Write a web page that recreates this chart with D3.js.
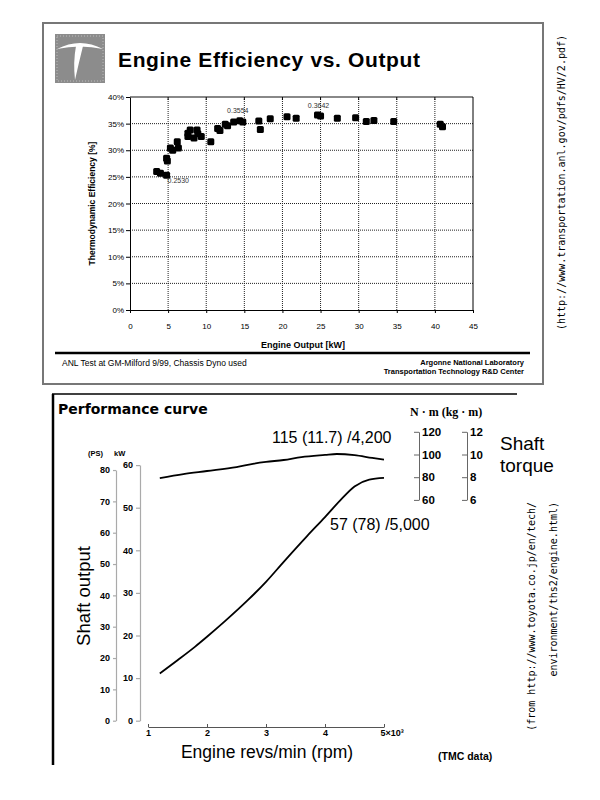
<!DOCTYPE html>
<html>
<head>
<meta charset="utf-8">
<script src="https://cdn.jsdelivr.net/npm/d3@7"></script>
<style>
  body { margin: 0; background: #fff; }
</style>
</head>
<body>
<div id="chart"></div>
<script>
// ANL test points: engine output [kW] vs thermodynamic efficiency [%]
const outputKw   = [3.5, 4.0, 4.8, 4.8, 4.9, 5.3, 5.6, 6.2, 6.35, 7.6, 7.9, 7.6, 8.4, 8.8, 8.9, 9.35, 10.6, 11.5, 11.8, 12.5, 12.8, 13.6, 14.4, 14.8, 16.9, 17.1, 18.4, 20.6, 21.8, 24.6, 25.0, 27.2, 29.6, 31.0, 32.0, 34.6, 40.7, 41.0];
const efficiency = [26.0, 25.7, 25.3, 28.5, 28.0, 30.4, 30.0, 31.6, 30.4, 33.2, 33.8, 32.6, 32.3, 33.8, 33.1, 32.6, 31.6, 34.1, 33.7, 34.9, 34.6, 35.3, 35.54, 35.3, 35.5, 33.9, 35.9, 36.3, 36.0, 36.6, 36.42, 36.0, 36.1, 35.4, 35.6, 35.4, 34.9, 34.4];
const calloutKw  = [4.8, 14.4, 25.0];
const calloutEff = [25.30, 35.54, 36.42];
const effXTicks  = [0, 5, 10, 15, 20, 25, 30, 35, 40, 45];
const effYTicks  = [0, 5, 10, 15, 20, 25, 30, 35, 40];

// Toyota performance curve (rpm in 10^3)
const powerRpm  = [1.2, 1.5, 1.8, 2.0, 2.3, 2.7, 3.0, 3.3, 3.7, 4.0, 4.25, 4.5, 4.75, 5.0];
const powerKw   = [11.1, 14.2, 17.4, 19.7, 23.3, 28.4, 32.6, 37.3, 43.4, 47.8, 51.6, 55.0, 56.6, 57.0];
const torqueRpm = [1.2, 1.6, 2.0, 2.5, 2.8, 3.0, 3.3, 3.6, 4.0, 4.2, 4.5, 4.8, 5.0];
const torqueNm  = [93.8, 97.3, 100, 103.5, 106.5, 108, 109.7, 112.3, 114.2, 115, 114, 111.5, 110];
const rpmTicks  = [1, 2, 3, 4, 5];
const kwTicks   = [0, 10, 20, 30, 40, 50, 60];
const psTicks   = [0, 10, 20, 30, 40, 50, 60, 70, 80];
const nmTicks   = [60, 80, 100, 120];
const kgmTicks  = [6, 8, 10, 12];

const sans = "Liberation Sans, Arial, sans-serif";
const mono = "DejaVu Sans Mono, monospace";

const svg = d3.select("#chart")
              .append("svg")
              .attr("width", 600)
              .attr("height", 800)
              .attr("font-family", sans);

svg.append("rect").attr("width", 600).attr("height", 800).attr("fill", "#fff");

/* ---------- top panel ---------- */

svg.append("rect")
   .attr("x", 43).attr("y", 23)
   .attr("width", 500).attr("height", 361)
   .attr("fill", "none")
   .attr("stroke", "#777")
   .attr("stroke-width", 2);

// logo
const logo = svg.append("g");
logo.append("rect").attr("x", 55).attr("y", 34).attr("width", 50).attr("height", 49).attr("fill", "#8c8c8c");
logo.append("rect").attr("x", 57).attr("y", 36).attr("width", 46).attr("height", 45)
    .attr("fill", "none").attr("stroke", "#bbb").attr("stroke-dasharray", "1,2");
logo.append("path").attr("d", "M57,49 Q80,37 103,49 Q80,44 57,49 Z").attr("fill", "#fff");
logo.append("path").attr("d", "M76,46 L83,46 Q79,62 75,80 Q73,62 76,46 Z").attr("fill", "#fff");

svg.append("text")
   .attr("x", 118).attr("y", 67)
   .attr("font-size", 21).attr("font-weight", "bold")
   .attr("textLength", 302).attr("lengthAdjust", "spacing")
   .text("Engine Efficiency vs. Output");

const x1 = d3.scaleLinear().domain([0, 45]).range([130, 473]);
const y1 = d3.scaleLinear().domain([0, 40]).range([310, 97]);

// dotted grid
svg.append("g")
   .selectAll("line")
   .data(effXTicks.slice(1, -1))
   .enter().append("line")
   .attr("x1", d => x1(d)).attr("x2", d => x1(d))
   .attr("y1", y1(40)).attr("y2", y1(0))
   .attr("stroke", "#222").attr("stroke-dasharray", "1,1");

svg.append("g")
   .selectAll("line")
   .data(effYTicks.slice(1, -1))
   .enter().append("line")
   .attr("x1", x1(0)).attr("x2", x1(45))
   .attr("y1", d => y1(d)).attr("y2", d => y1(d))
   .attr("stroke", "#222").attr("stroke-dasharray", "1,1");

// top + right borders of plot box
svg.append("line")
   .attr("x1", x1(0)).attr("x2", x1(45))
   .attr("y1", y1(40)).attr("y2", y1(40))
   .attr("stroke", "#888").attr("stroke-width", 2);
svg.append("line")
   .attr("x1", x1(45)).attr("x2", x1(45))
   .attr("y1", y1(40)).attr("y2", y1(0))
   .attr("stroke", "#000");
svg.append("g")
   .selectAll("line")
   .data(effXTicks.slice(1, -1))
   .enter().append("line")
   .attr("x1", d => x1(d)).attr("x2", d => x1(d))
   .attr("y1", y1(40)).attr("y2", y1(40) + 3)
   .attr("stroke", "#000");

const yAxis1 = svg.append("g")
   .attr("transform", "translate(" + x1(0) + ",0)")
   .call(d3.axisLeft(y1).tickValues(effYTicks).tickSize(4).tickSizeOuter(0).tickPadding(2).tickFormat(d => d + "%"));

const xAxis1 = svg.append("g")
   .attr("transform", "translate(0," + y1(0) + ")")
   .call(d3.axisBottom(x1).tickValues(effXTicks).tickSize(3).tickSizeOuter(0).tickPadding(10));

[yAxis1, xAxis1].forEach(g => {
  g.attr("font-family", sans).attr("font-size", 8);
  g.selectAll("path, line").attr("stroke", "#000");
});

svg.append("g")
   .selectAll("rect")
   .data(outputKw.map((d, i) => ({kw: d, eff: efficiency[i]})))
   .enter().append("rect")
   .attr("x", d => x1(d.kw) - 3.5)
   .attr("y", d => y1(d.eff) - 3.5)
   .attr("width", 7).attr("height", 7)
   .attr("rx", 1.5)
   .attr("fill", "#000");

svg.append("g")
   .selectAll("text")
   .data(calloutKw.map((d, i) => ({kw: d, eff: calloutEff[i]})))
   .enter().append("text")
   .attr("x", d => d.eff < 30 ? x1(d.kw) + 1 : x1(d.kw) - 2)
   .attr("y", d => d.eff < 30 ? y1(d.eff) + 8 : y1(d.eff) - 8)
   .attr("text-anchor", d => d.eff < 30 ? "start" : "middle")
   .attr("font-size", 7)
   .attr("fill", "#333")
   .text(d => (d.eff / 100).toFixed(4));

svg.append("text")
   .attr("transform", "translate(95," + y1(20) + ") rotate(-90)")
   .attr("text-anchor", "middle")
   .attr("font-size", 8.5).attr("font-weight", "bold")
   .text("Thermodynamic Efficiency [%]");

svg.append("text")
   .attr("x", 303).attr("y", 348)
   .attr("text-anchor", "middle")
   .attr("font-size", 9).attr("font-weight", "bold")
   .text("Engine Output [kW]");

svg.append("line")
   .attr("x1", 55).attr("x2", 530)
   .attr("y1", 353).attr("y2", 353)
   .attr("stroke", "#000").attr("stroke-width", 2.5);

svg.append("text")
   .attr("x", 62).attr("y", 366)
   .attr("font-size", 8.5)
   .text("ANL Test at GM-Milford 9/99, Chassis Dyno used");

svg.append("text")
   .attr("x", 524).attr("y", 365)
   .attr("text-anchor", "end")
   .attr("font-size", 7.5).attr("font-weight", "bold")
   .text("Argonne National Laboratory");

svg.append("text")
   .attr("x", 524).attr("y", 374)
   .attr("text-anchor", "end")
   .attr("font-size", 7.5).attr("font-weight", "bold")
   .text("Transportation Technology R&D Center");

svg.append("text")
   .attr("transform", "translate(565,35) rotate(-90)")
   .attr("text-anchor", "end")
   .attr("font-family", mono)
   .attr("font-size", 10)
   .text("(http://www.transportation.anl.gov/pdfs/HV/2.pdf)");

/* ---------- bottom panel ---------- */

svg.append("line")
   .attr("x1", 53).attr("x2", 53)
   .attr("y1", 394).attr("y2", 765)
   .attr("stroke", "#000").attr("stroke-width", 2.5);
svg.append("line")
   .attr("x1", 52).attr("x2", 517)
   .attr("y1", 394).attr("y2", 394)
   .attr("stroke", "#000").attr("stroke-width", 1.5);

svg.append("text")
   .attr("x", 58).attr("y", 414)
   .attr("font-family", "DejaVu Sans, sans-serif")
   .attr("font-size", 14).attr("font-weight", "bold")
   .text("Performance curve");

const x2 = d3.scaleLinear().domain([1, 5]).range([148, 384]);
const kwY = d3.scaleLinear().domain([0, 60]).range([720.7, 465.1]);
const psY = d3.scaleLinear().domain([0, 80]).range([kwY(0), kwY(80 * 0.7355)]);
const torqueY = d3.scaleLinear().domain([60, 120]).range([516.4, 448.3]);
const kgmY = d3.scaleLinear().domain([6, 12]).range(torqueY.range());

const rpmAxis = svg.append("g")
   .attr("transform", "translate(0,727)")
   .call(d3.axisBottom(x2).tickValues(rpmTicks).tickSizeInner(-3).tickSizeOuter(0).tickPadding(3)
           .tickFormat(d => d === 5 ? "5×10³" : d));
rpmAxis.selectAll(".tick text")
   .filter(d => d === 5)
   .attr("text-anchor", "start")
   .attr("dx", -4);

const psAxis = svg.append("g")
   .attr("transform", "translate(116,0)")
   .call(d3.axisLeft(psY).tickValues(psTicks).tickSize(3).tickSizeOuter(0).tickPadding(3));

const kwAxis = svg.append("g")
   .attr("transform", "translate(140,0)")
   .call(d3.axisLeft(kwY).tickValues(kwTicks).tickSize(4).tickSizeOuter(0).tickPadding(3));

[rpmAxis, psAxis, kwAxis].forEach(g => {
  g.attr("font-family", sans)
   .attr("font-size", 9)
   .attr("font-weight", "bold");
});
rpmAxis.selectAll("path, line").attr("stroke", "#555");
[psAxis, kwAxis].forEach(g => g.selectAll("path, line").attr("stroke", "#aaa").attr("stroke-width", 1.2));

// torque scale brackets (drawn slightly above the curve's own scale)
const nmAxis = svg.append("g")
   .attr("transform", "translate(419,-16.5)")
   .call(d3.axisRight(torqueY).tickValues(nmTicks).tickSizeInner(-5).tickSizeOuter(0).tickPadding(3));
const kgmAxis = svg.append("g")
   .attr("transform", "translate(467,-16.5)")
   .call(d3.axisRight(kgmY).tickValues(kgmTicks).tickSizeInner(-5).tickSizeOuter(0).tickPadding(3)
           .tickFormat(d3.format("d")));
[nmAxis, kgmAxis].forEach(g => {
  g.attr("font-family", sans)
   .attr("font-size", 11.5)
   .attr("font-weight", "bold");
  g.selectAll("path, line").attr("stroke", "#666");
});

const line = d3.line().curve(d3.curveMonotoneX);

svg.append("path")
   .attr("d", line(powerRpm.map((d, i) => [x2(d), kwY(powerKw[i])])))
   .attr("fill", "none")
   .attr("stroke", "#000")
   .attr("stroke-width", 1.8);

svg.append("path")
   .attr("d", line(torqueRpm.map((d, i) => [x2(d), torqueY(torqueNm[i])])))
   .attr("fill", "none")
   .attr("stroke", "#000")
   .attr("stroke-width", 1.8);

svg.append("text")
   .attr("x", 272).attr("y", 443)
   .attr("font-size", 16)
   .text("115 (11.7) /4,200");

svg.append("text")
   .attr("x", 330).attr("y", 530)
   .attr("font-size", 16)
   .text("57 (78) /5,000");

svg.append("text")
   .attr("x", 410).attr("y", 416)
   .attr("font-family", "Liberation Serif, serif")
   .attr("font-size", 12).attr("font-weight", "bold")
   .text("N · m (kg · m)");

svg.append("text")
   .attr("x", 500).attr("y", 450)
   .attr("font-size", 19)
   .text("Shaft");
svg.append("text")
   .attr("x", 500).attr("y", 472)
   .attr("font-size", 19)
   .text("torque");

svg.append("text")
   .attr("x", 88).attr("y", 456)
   .attr("font-size", 7.5).attr("font-weight", "bold")
   .text("(PS)");
svg.append("text")
   .attr("x", 114).attr("y", 456)
   .attr("font-size", 7.5).attr("font-weight", "bold")
   .text("kW");

svg.append("text")
   .attr("transform", "translate(90,596) rotate(-90)")
   .attr("text-anchor", "middle")
   .attr("font-size", 18.5)
   .text("Shaft output");

svg.append("text")
   .attr("x", 267).attr("y", 758)
   .attr("text-anchor", "middle")
   .attr("font-size", 17.5)
   .text("Engine revs/min (rpm)");

svg.append("text")
   .attr("x", 438).attr("y", 760)
   .attr("font-size", 10.5).attr("font-weight", "bold")
   .text("(TMC data)");

svg.append("text")
   .attr("transform", "translate(535,502) rotate(-90)")
   .attr("text-anchor", "end")
   .attr("font-family", mono)
   .attr("font-size", 10)
   .text("(from http://www.toyota.co.jp/en/tech/");
svg.append("text")
   .attr("transform", "translate(557,502) rotate(-90)")
   .attr("text-anchor", "end")
   .attr("font-family", mono)
   .attr("font-size", 10)
   .text("environment/ths2/engine.html)");
</script>
</body>
</html>
